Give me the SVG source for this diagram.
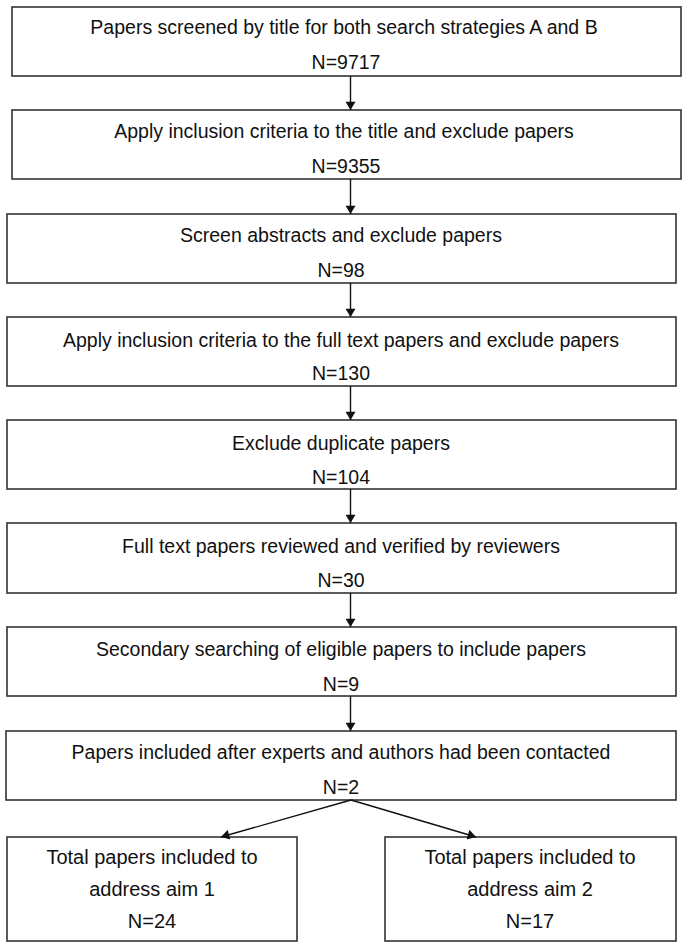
<svg xmlns="http://www.w3.org/2000/svg" width="685" height="943" viewBox="0 0 685 943">
<defs>
<marker id="ah" viewBox="0 0 10 12" refX="10" refY="6" markerWidth="12" markerHeight="10" markerUnits="userSpaceOnUse" orient="auto">
<path d="M0,0 L10,6 L0,12 z" fill="#111"/>
</marker>
<style>
rect{fill:#fff;stroke:#333;stroke-width:1.6}
text{font-family:"Liberation Sans",Arial,sans-serif;font-size:19.5px;fill:#111;text-anchor:middle}
.b text{font-size:20px}
.c line{stroke:#111;stroke-width:1.4}
</style>
</defs>
<rect x="0" y="0" width="685" height="943" style="stroke:none"/>
<g id="n1"><rect x="12" y="7" width="669" height="69"/><text x="344" y="34">Papers screened by title for both search strategies A and B</text><text x="346" y="69">N=9717</text></g>
<g id="n2"><rect x="12" y="110" width="669" height="69"/><text x="344" y="138">Apply inclusion criteria to the title and exclude papers</text><text x="346" y="173">N=9355</text></g>
<g id="n3"><rect x="7" y="214" width="669" height="69"/><text x="341" y="242">Screen abstracts and exclude papers</text><text x="341" y="277">N=98</text></g>
<g id="n4"><rect x="7" y="317" width="669" height="69"/><text x="341" y="347">Apply inclusion criteria to the full text papers and exclude papers</text><text x="341" y="380">N=130</text></g>
<g id="n5"><rect x="7" y="420" width="669" height="69"/><text x="341" y="450">Exclude duplicate papers</text><text x="341" y="484">N=104</text></g>
<g id="n6"><rect x="7" y="523" width="669" height="70"/><text x="341" y="553">Full text papers reviewed and verified by reviewers</text><text x="341" y="587">N=30</text></g>
<g id="n7"><rect x="7" y="627" width="669" height="69"/><text x="341" y="656">Secondary searching of eligible papers to include papers</text><text x="341" y="691">N=9</text></g>
<g id="n8"><rect x="6" y="731" width="670" height="69"/><text x="341" y="759">Papers included after experts and authors had been contacted</text><text x="341" y="794">N=2</text></g>
<g id="n9" class="b"><rect x="7" y="837" width="290" height="104"/><text x="152" y="864">Total papers included to</text><text x="152" y="896">address aim 1</text><text x="152" y="928">N=24</text></g>
<g id="n10" class="b"><rect x="385" y="837" width="291" height="104"/><text x="530" y="864">Total papers included to</text><text x="530" y="896">address aim 2</text><text x="530" y="928">N=17</text></g>
<g class="c" id="connectors">
<line x1="350.5" y1="76" x2="350.5" y2="110" marker-end="url(#ah)"/>
<line x1="350.5" y1="179" x2="350.5" y2="214" marker-end="url(#ah)"/>
<line x1="350.5" y1="283" x2="350.5" y2="317" marker-end="url(#ah)"/>
<line x1="350.5" y1="386" x2="350.5" y2="420" marker-end="url(#ah)"/>
<line x1="350.5" y1="489" x2="350.5" y2="523" marker-end="url(#ah)"/>
<line x1="350.5" y1="593" x2="350.5" y2="627" marker-end="url(#ah)"/>
<line x1="350.5" y1="696" x2="350.5" y2="731" marker-end="url(#ah)"/>
<line x1="351" y1="800" x2="221" y2="837" marker-end="url(#ah)"/>
<line x1="351" y1="800" x2="476" y2="837" marker-end="url(#ah)"/>
</g>
</svg>
